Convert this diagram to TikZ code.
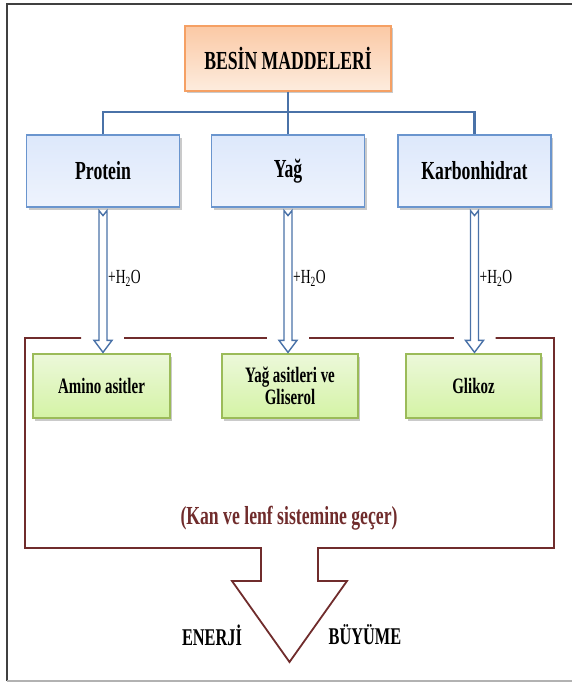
\documentclass[tikz,border=0pt]{standalone}
\usepackage{fontspec}
\setmainfont{Liberation Serif}[FakeStretch=0.68]
\usetikzlibrary{calc,shadows}
\definecolor{orangeB}{RGB}{245,160,100}
\definecolor{orangeT}{RGB}{251,201,165}
\definecolor{orangeL}{RGB}{253,236,222}
\definecolor{blueB}{RGB}{106,149,206}
\definecolor{blueT}{RGB}{221,232,251}
\definecolor{blueM}{RGB}{195,214,247}
\definecolor{blueL}{RGB}{238,243,253}
\definecolor{lineblue}{RGB}{74,114,168}
\definecolor{greenB}{RGB}{155,187,89}
\definecolor{greenT}{RGB}{236,248,218}
\definecolor{greenL}{RGB}{212,243,165}
\definecolor{maroon}{RGB}{112,44,44}
\tikzset{
  shad/.style={drop shadow={shadow xshift=2pt,shadow yshift=-2.5pt,opacity=0.35,fill=black!60}},
  orbox/.style={shad,draw=orangeB,line width=1.2pt,top color=orangeT,bottom color=orangeL,
    minimum width=206pt,minimum height=65pt,inner sep=0pt,
    font=\fontsize{26}{30}\selectfont\bfseries},
  bbox/.style={shad,draw=blueB,line width=1.2pt,top color=blueT,middle color=blueM,bottom color=blueL,
    minimum width=153pt,minimum height=72pt,inner sep=0pt,
    font=\fontsize{26}{30}\selectfont\bfseries},
  gbox/.style={shad,draw=greenB,line width=1.2pt,top color=greenT,bottom color=greenL,
    minimum height=64pt,inner sep=0pt,align=center,
    font=\fontsize{22}{22}\selectfont\bfseries},
  bline/.style={draw=lineblue,line width=2.8pt},
  harrow/.style={draw=lineblue,line width=1.4pt,fill=white,line join=miter},
  rline/.style={draw=maroon,line width=1.8pt,line join=miter},
  h2o/.style={anchor=west,inner sep=0pt,font=\fontsize{20}{22}\selectfont},
  btxt/.style={inner sep=0pt,font=\fontsize{24}{26}\selectfont\bfseries}
}
\newcommand{\hollowarr}[2]{%
  \draw[harrow] let \p1=(#1.south), \p2=(#2.north) in
    (\x1-4pt,\y1-3pt) -- (\x1,\y1-8pt) -- (\x1+4pt,\y1-3pt) -- (\x1+4pt,\y2+13pt)
    -- (\x1+9pt,\y2+13pt) -- (\x1,\y2+1pt) -- (\x1-9pt,\y2+13pt) -- (\x1-4pt,\y2+13pt) -- cycle;}
\begin{document}
\begin{tikzpicture}[x=1pt,y=-1pt]
\useasboundingbox (0,0) rectangle (571,682);
% page frame
\draw[black!75,line width=1.5pt] (7,681) -- (7,4) -- (573,4);
\draw[black!30,line width=1.5pt] (7,681) -- (573,681);

% nodes
\node[orbox] (top) at (288,58.5) {BESİN MADDELERİ};
\node[bbox] (p) at (103,171) {Protein};
\node[bbox] (y) at (288,171) {Yağ};
\node[bbox] (k) at (474.5,171) {Karbonhidrat};
\node[gbox,minimum width=137pt] (ga) at (101.5,386) {Amino asitler};
\node[gbox,minimum width=136pt] (gy) at (290,386) {Yağ asitleri ve\\Gliserol};
\node[gbox,minimum width=135pt] (gk) at (473.5,386) {Glikoz};

% blue connectors
\coordinate (j) at (288,112);
\draw[bline] (top.south) -- (y.north);
\draw[bline] (p.north) |- (j) -| (k.north);

% hollow arrows
\hollowarr{p}{ga}
\hollowarr{y}{gy}
\hollowarr{k}{gk}
\node[h2o] (h1) at ($(p.south)+(5,71)$) {+H\textsubscript{2}O};
\node[h2o] (h2) at ($(y.south)+(5,71)$) {+H\textsubscript{2}O};
\node[h2o] (h3) at ($(k.south)+(5,71)$) {+H\textsubscript{2}O};

% maroon frame with big arrow
\coordinate (tl) at (25,338);
\coordinate (tr) at (554,338);
\coordinate (bl) at (25,548);
\coordinate (br) at (554,548);
\coordinate (tip) at (289.5,662);
\draw[rline] ($(p.south |- tl)+(-22,0)$) -- (tl) -- (bl) -- (261,548) -- (261,581) -- (232,581)
  -- (tip) -- (347,581) -- (318,581) -- (318,548) -- (br) -- (tr) -- ($(k.south |- tr)+(21,0)$);
\draw[rline] ($(p.south |- tl)+(21,0)$) -- ($(y.south |- tl)+(-21,0)$);
\draw[rline] ($(y.south |- tl)+(21,0)$) -- ($(k.south |- tl)+(-21,0)$);

\node[inner sep=0pt,text=maroon,font=\fontsize{26}{30}\selectfont\bfseries] (kan) at (289,518) {(Kan ve lenf sistemine geçer)};
\node[btxt] (en) at (212,635) {ENERJİ};
\node[btxt] (bu) at (365,635) {BÜYÜME};
\end{tikzpicture}
\end{document}
